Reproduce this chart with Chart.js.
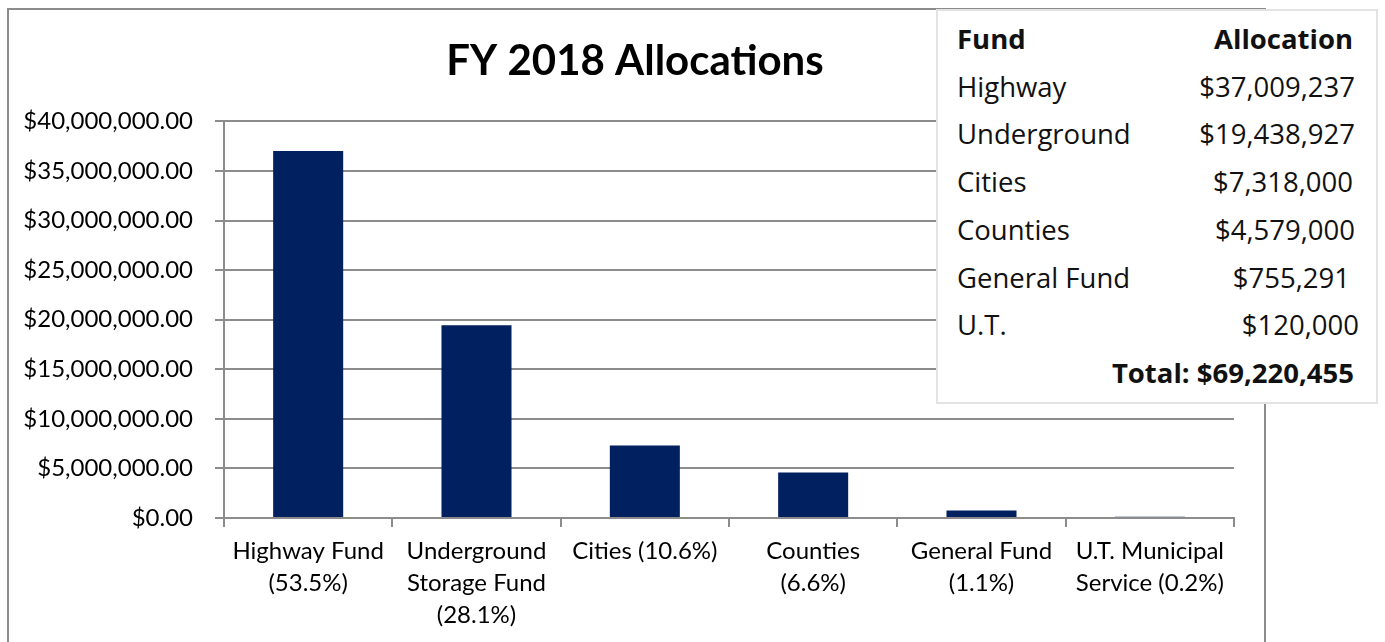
<!DOCTYPE html>
<html>
<head>
<meta charset="utf-8">
<script src="https://cdn.jsdelivr.net/npm/chart.js@4"></script>
<style>
  html, body { margin: 0; padding: 0; background: #fff; }
  #wrap { position: relative; width: 1385px; height: 642px; overflow: hidden; }
  #frame { position: absolute; left: 7px; top: 8px; width: 1255px; height: 700px; border: 2px solid #8c8c8c; pointer-events: none; }
  canvas { position: absolute; left: 0; top: 0; }
  #tbl { position: absolute; left: 936px; top: 9px; width: 442px; height: 395px; background: #fff; border: 2px solid #e3e3e3; box-sizing: border-box; font-family: "Open Sans", sans-serif; font-size: 27.5px; color: #111; }
  #tbl table { border-collapse: collapse; table-layout: fixed; position: absolute; left: 19px; top: 4px; width: 398px; }
  #tbl td { height: 47.7px; padding: 0; line-height: 47.7px; white-space: nowrap; overflow: visible; }
  #tbl td.r { text-align: right; }
  #tbl .b { font-weight: bold; }
</style>
</head>
<body>
<div id="wrap">
  <canvas id="c" width="1385" height="642"></canvas>
  <div id="frame"></div>
  <div id="tbl"><table id="t"><colgroup><col style="width:200px"><col style="width:198px"></colgroup><tbody id="tb"></tbody></table></div>
</div>
<script>
const categories = [
  ["Highway Fund", "(53.5%)"],
  ["Underground", "Storage Fund", "(28.1%)"],
  ["Cities (10.6%)"],
  ["Counties", "(6.6%)"],
  ["General Fund", "(1.1%)"],
  ["U.T. Municipal", "Service (0.2%)"]
];
const allocations = [37009237, 19438927, 7318000, 4579000, 755291, 120000];
const tableFunds = ["Highway", "Underground", "Cities", "Counties", "General Fund", "U.T."];
const tableValues = ["$37,009,237", "$19,438,927", "$7,318,000", "$4,579,000", "$755,291", "$120,000"];
const tableTotal = "Total: $69,220,455";
const chartTitle = "FY 2018 Allocations";

// Build the table overlay
const tb = document.getElementById('tb');
let html = '<tr><td class="b">Fund</td><td class="r b" style="padding-right:2px">Allocation</td></tr>';
const nudges = [0, 0, 2, 0, 5, -4];
tableFunds.forEach((f, i) => {
  const n = nudges[i];
  const st = n > 0 ? 'padding-right:' + n + 'px;' : (n < 0 ? 'position:relative;left:' + (-n) + 'px;' : '');
  html += '<tr><td>' + f + '</td><td class="r" style="' + st + '">' + tableValues[i] + '</td></tr>';
});
html += '<tr><td colspan="2" class="r b" style="padding-right:1px">' + tableTotal + '</td></tr>';
tb.innerHTML = html;

const axisFont = { family: "Lato, sans-serif", size: 24 };
const gridColor = '#8c8c8c';

new Chart(document.getElementById('c'), {
  type: 'bar',
  data: {
    labels: categories,
    datasets: [{
      data: allocations,
      backgroundColor: '#002060',
      borderWidth: 0,
      categoryPercentage: 1,
      barPercentage: 0.416,
      yAxisID: 'y'
    }]
  },
  options: {
    responsive: false,
    animation: false,
    events: [],
    layout: { padding: { left: 10, right: 125, top: 0, bottom: 0 } },
    plugins: {
      legend: { display: false },
      tooltip: { enabled: false },
      title: {
        display: true,
        text: chartTitle,
        color: '#000',
        font: { family: "Lato, sans-serif", size: 42, weight: 'bold', lineHeight: 1.2 },
        padding: { top: 36, bottom: 35 }
      }
    },
    scales: {
      x: {
        offset: true,
        grid: { display: true, offset: true, drawOnChartArea: false, drawTicks: true, tickLength: 9, color: gridColor, lineWidth: 2 },
        border: { display: true, color: gridColor, width: 2 },
        ticks: { color: '#000', font: { ...axisFont, lineHeight: 1.333 }, padding: 8, maxRotation: 0, autoSkip: false },
        afterFit: s => { s.height = 124; }
      },
      y: {
        min: 0, max: 40000000,
        grid: { color: gridColor, lineWidth: 2, tickLength: 9, drawTicks: true },
        border: { display: true, color: gridColor, width: 2 },
        ticks: {
          stepSize: 5000000, color: '#000', font: axisFont, padding: 22,
          callback: v => '$' + Number(v).toLocaleString('en-US', { minimumFractionDigits: 2, maximumFractionDigits: 2 })
        },
        afterFit: s => { s.width = 214; }
      },
      y2: {
        position: 'right',
        display: true,
        grid: { display: false, drawOnChartArea: false },
        border: { display: false },
        ticks: { display: false },
        afterFit: s => { s.width = 26; }
      }
    }
  }
});
</script>
</body>
</html>
